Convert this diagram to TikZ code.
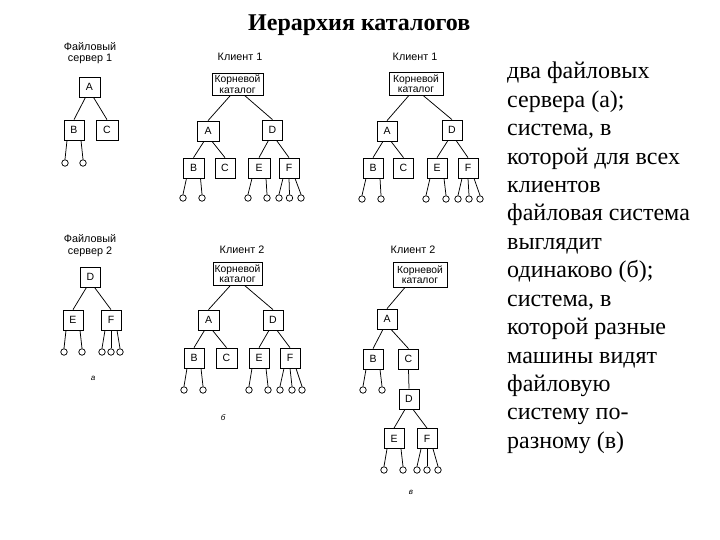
\documentclass[tikz,border=0pt]{standalone}
\usepackage{fontspec}
\setmainfont{Liberation Serif}
\setsansfont{Liberation Sans}
\tikzset{
  bx/.style={draw, line width=0.75pt, minimum width=20pt, minimum height=20pt, inner sep=0pt, font=\sffamily\fontsize{10.5}{11}\selectfont},
  rootbx/.style={draw, line width=0.75pt, align=center, inner sep=0pt, font=\sffamily\fontsize{10.3}{10.5}\selectfont},
  leaf/.style={circle, draw, line width=0.75pt, minimum size=6.5pt, inner sep=0pt},
  lbl/.style={align=center, inner sep=0pt, font=\sffamily\fontsize{10.8}{11.5}\selectfont},
  figcap/.style={inner sep=0pt, font=\sffamily\itshape\fontsize{8}{9}\selectfont},
  edge/.style={line width=0.75pt},
  body/.style={inner sep=0pt, anchor=base west, font=\fontsize{24}{28}\selectfont},
}
\newcommand\leafpair[5]{%
  \node[leaf] (#5a) at (#3,#2) {};
  \node[leaf] (#5b) at (#4,#2) {};
  \draw[edge] ([xshift=-7pt]#1.south) -- (#5a.north);
  \draw[edge] ([xshift=7pt]#1.south) -- (#5b.north);}
\newcommand\leaftriple[6]{%
  \node[leaf] (#6a) at (#3,#2) {};
  \node[leaf] (#6b) at (#4,#2) {};
  \node[leaf] (#6c) at (#5,#2) {};
  \draw[edge] ([xshift=-6pt]#1.south) -- (#6a.north);
  \draw[edge] (#1.south) -- (#6b.north);
  \draw[edge] ([xshift=6pt]#1.south) -- (#6c.north);}
\begin{document}
\begin{tikzpicture}[x=1pt,y=-1pt]
\useasboundingbox (0,0) rectangle (720,540);

% title
\node[inner sep=0pt, anchor=base west, font=\bfseries\fontsize{24}{26}\selectfont] (title) at (248,31) {Иерархия каталогов};

% ---------- File server 1 ----------
\node[lbl] (fs1) at (90,53) {Файловый\\сервер 1};
\node[bx, minimum width=21pt] (a1) at (89.5,87) {A};
\node[bx] (b1) at (74,130) {B};
\node[bx, minimum width=22pt] (c1) at (107,130) {C};
\draw[edge] ([xshift=-4pt]a1.south) -- (b1.north);
\draw[edge] ([xshift=4pt]a1.south) -- (c1.north);
\leafpair{b1}{163}{65}{83}{lb1}

% ---------- Client 1 (b) ----------
\node[lbl] (k1b) at (240,57) {Клиент 1};
\node[rootbx, minimum width=51pt, minimum height=22pt] (r1b) at (237.5,84) {Корневой\\каталог};
\node[bx, minimum width=22pt] (a2) at (208,131) {A};
\node[bx] (d2) at (272.5,130) {D};
\node[bx, minimum width=21pt] (b2) at (193.5,168) {B};
\node[bx] (c2) at (225,168) {C};
\node[bx, minimum width=22pt] (e2) at (259,168) {E};
\node[bx] (f2) at (289,168) {F};
\draw[edge] ([xshift=-7pt]r1b.south) -- (a2.north);
\draw[edge] ([xshift=7pt]r1b.south) -- (d2.north);
\draw[edge] ([xshift=-4pt]a2.south) -- (b2.north);
\draw[edge] ([xshift=4pt]a2.south) -- (c2.north);
\draw[edge] ([xshift=-4pt]d2.south) -- (e2.north);
\draw[edge] ([xshift=4pt]d2.south) -- (f2.north);
\leafpair{b2}{198}{183}{202}{lb2}
\leafpair{e2}{198}{248}{267}{le2}
\leaftriple{f2}{198}{279}{289.5}{301}{lf2}

% ---------- Client 1 (v) ----------
\node[lbl] (k1v) at (415,57) {Клиент 1};
\node[rootbx, minimum width=54pt, minimum height=23pt] (r1v) at (416,83.5) {Корневой\\каталог};
\node[bx] (a3) at (387,131) {A};
\node[bx] (d3) at (452,130) {D};
\node[bx] (b3) at (373,168) {B};
\node[bx] (c3) at (403.5,168) {C};
\node[bx] (e3) at (437,168) {E};
\node[bx] (f3) at (468,168) {F};
\draw[edge] ([xshift=-7pt]r1v.south) -- (a3.north);
\draw[edge] ([xshift=7pt]r1v.south) -- (d3.north);
\draw[edge] ([xshift=-4pt]a3.south) -- (b3.north);
\draw[edge] ([xshift=4pt]a3.south) -- (c3.north);
\draw[edge] ([xshift=-4pt]d3.south) -- (e3.north);
\draw[edge] ([xshift=4pt]d3.south) -- (f3.north);
\leafpair{b3}{199}{362}{381}{lb3}
\leafpair{e3}{199}{426}{446}{le3}
\leaftriple{f3}{199}{458}{469}{480}{lf3}

% ---------- File server 2 ----------
\node[lbl] (fs2) at (90,245.5) {Файловый\\сервер 2};
\node[bx] (d4) at (90.5,277) {D};
\node[bx] (e4) at (73,320) {E};
\node[bx] (f4) at (111,320) {F};
\draw[edge] ([xshift=-4pt]d4.south) -- (e4.north);
\draw[edge] ([xshift=4pt]d4.south) -- (f4.north);
\leafpair{e4}{352}{64}{82}{le4}
\leaftriple{f4}{352}{102}{111}{120}{lf4}
\node[figcap] (capa) at (93,378) {а};

% ---------- Client 2 (b) ----------
\node[lbl] (k2b) at (242,250) {Клиент 2};
\node[rootbx, minimum width=49pt, minimum height=23pt] (r2b) at (237.5,273.5) {Корневой\\каталог};
\node[bx, minimum width=21pt] (a5) at (208.5,320) {A};
\node[bx] (d5) at (273,320) {D};
\node[bx] (b5) at (194,358) {B};
\node[bx, minimum width=21pt] (c5) at (226.5,358) {C};
\node[bx] (e5) at (259,358) {E};
\node[bx] (f5) at (290,358) {F};
\draw[edge] ([xshift=-7pt]r2b.south) -- (a5.north);
\draw[edge] ([xshift=7pt]r2b.south) -- (d5.north);
\draw[edge] ([xshift=-4pt]a5.south) -- (b5.north);
\draw[edge] ([xshift=4pt]a5.south) -- (c5.north);
\draw[edge] ([xshift=-4pt]d5.south) -- (e5.north);
\draw[edge] ([xshift=4pt]d5.south) -- (f5.north);
\leafpair{b5}{390}{184}{203}{lb5}
\leafpair{e5}{390}{249}{268}{le5}
\leaftriple{f5}{390}{280}{292}{302}{lf5}
\node[figcap] (capb) at (223,418) {б};

% ---------- Client 2 (v) ----------
\node[lbl] (k2v) at (413,250) {Клиент 2};
\node[rootbx, minimum width=54pt, minimum height=25pt] (r2v) at (420,274.5) {Корневой\\каталог};
\node[bx] (a6) at (387,319) {A};
\node[bx] (b6) at (373,359) {B};
\node[bx] (c6) at (408.5,359) {C};
\node[bx] (d6) at (409,399) {D};
\node[bx] (e6) at (394,438.5) {E};
\node[bx] (f6) at (427,438.5) {F};
\draw[edge] ([xshift=-15pt]r2v.south) -- (a6.north);
\draw[edge] ([xshift=-4pt]a6.south) -- (b6.north);
\draw[edge] ([xshift=4pt]a6.south) -- (c6.north);
\draw[edge] (c6.south) -- (d6.north);
\draw[edge] ([xshift=-4pt]d6.south) -- (e6.north);
\draw[edge] ([xshift=4pt]d6.south) -- (f6.north);
\leafpair{b6}{390}{363}{382}{lb6}
\leafpair{e6}{470}{384}{403}{le6}
\leaftriple{f6}{470}{417}{427}{438}{lf6}
\node[figcap] (capv) at (411,492) {в};

% ---------- right text ----------
\foreach \t [count=\i from 0] in {два файловых, сервера (а);, {система, в}, которой для всех, клиентов, файловая система, выглядит, одинаково (б);, {система, в}, которой разные, машины видят, файловую, систему по-, разному (в)}
  \node[body] (txt\i) at (507, 79+28.4*\i) {\t};
\end{tikzpicture}
\end{document}
